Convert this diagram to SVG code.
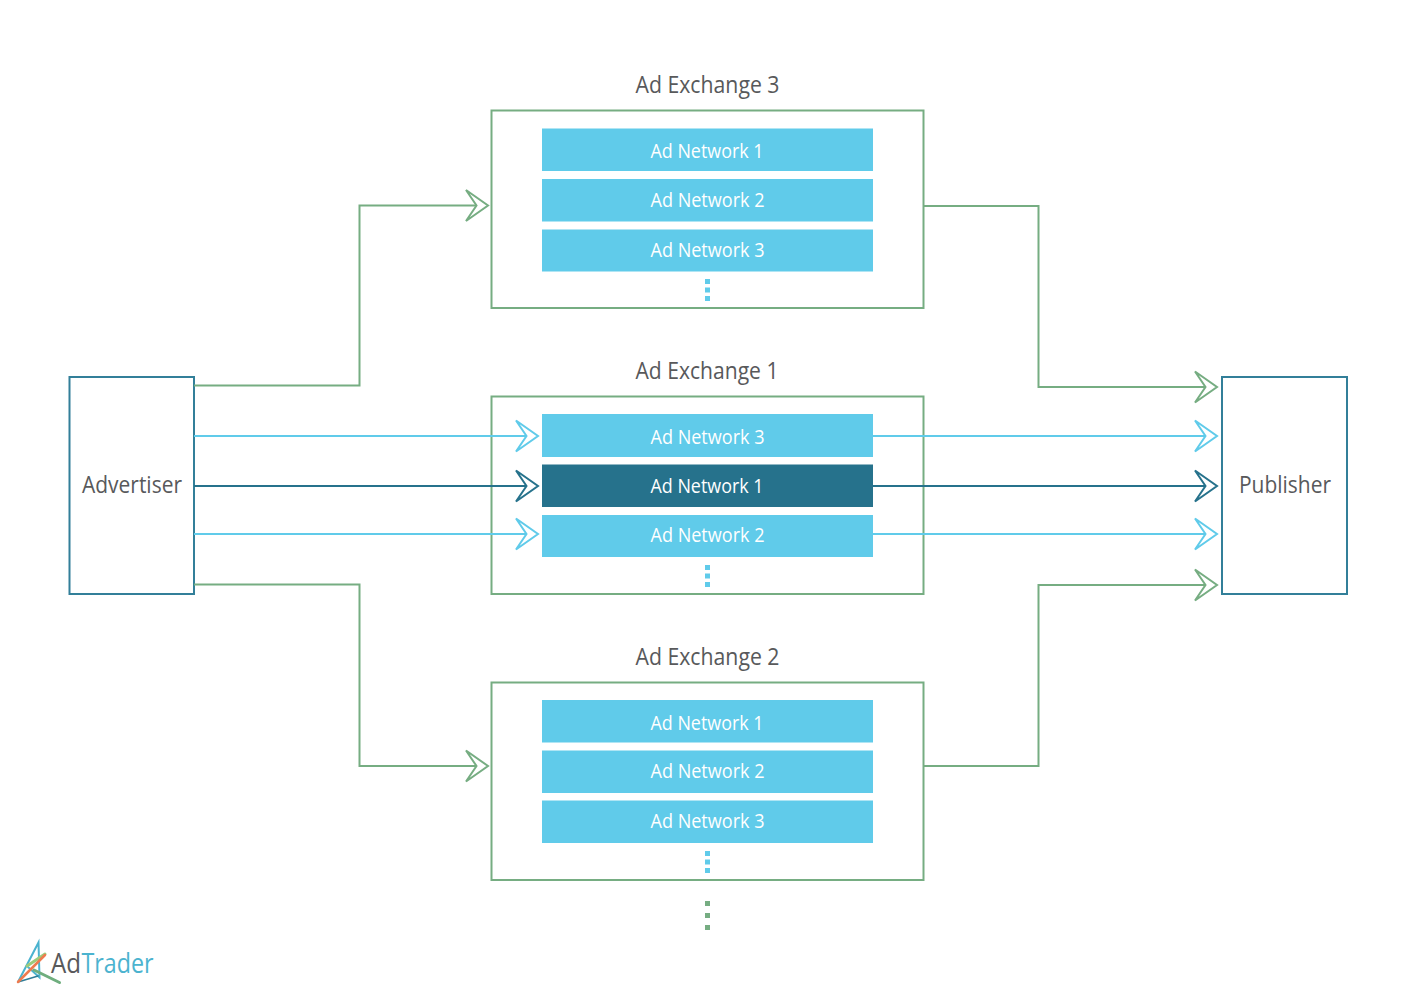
<svg xmlns="http://www.w3.org/2000/svg" width="1415" height="1000" viewBox="0 0 1415 1000">
<style>
text{font-family:"Open Sans","Noto Sans","Liberation Sans",sans-serif;text-anchor:middle}
.t{font-size:23px;fill:#58595b}
.n{font-size:20px;fill:#fff}
.ex{fill:#fff;stroke:#76ad82;stroke-width:2}
.ep{fill:#fff;stroke:#327f99;stroke-width:2}
.net{fill:#60cbea}
.dark{fill:#26728c}
.c{fill:none;stroke-width:2}
.g{stroke:#76ad82;marker-end:url(#ag)}
.l{stroke:#60cbea;marker-end:url(#al)}
.d{stroke:#26728c;marker-end:url(#ad)}
.dot{fill:#60cbea}
.gd{fill:#76ad82}
</style>
<defs>
<marker id="ag" markerUnits="userSpaceOnUse" markerWidth="30" markerHeight="36" refX="11" refY="18" orient="auto" viewBox="0 0 30 36"><path d="M1,2.500L23,18L1,33.500L11.500,18Z" fill="#fff" stroke="#76ad82" stroke-width="2"/></marker>
<marker id="al" markerUnits="userSpaceOnUse" markerWidth="30" markerHeight="36" refX="11" refY="18" orient="auto" viewBox="0 0 30 36"><path d="M1,2.500L23,18L1,33.500L11.500,18Z" fill="#fff" stroke="#60cbea" stroke-width="2"/></marker>
<marker id="ad" markerUnits="userSpaceOnUse" markerWidth="30" markerHeight="36" refX="11" refY="18" orient="auto" viewBox="0 0 30 36"><path d="M1,2.500L23,18L1,33.500L11.500,18Z" fill="#fff" stroke="#26728c" stroke-width="2"/></marker>
</defs>
<rect width="1415" height="1000" fill="#fff"/>

<g id="exchange3">
<rect class="ex" x="491.5" y="110.5" width="432" height="197.5"/>
<text class="t" x="707.500" y="93" textLength="144" lengthAdjust="spacingAndGlyphs">Ad Exchange 3</text>
<rect class="net" x="542" y="128.500" width="331" height="42.500"/><text class="n" x="707" y="158" textLength="113" lengthAdjust="spacingAndGlyphs">Ad Network 1</text>
<rect class="net" x="542" y="179" width="331" height="42.500"/><text class="n" x="707.500" y="207" textLength="114" lengthAdjust="spacingAndGlyphs">Ad Network 2</text>
<rect class="net" x="542" y="229.500" width="331" height="42"/><text class="n" x="707.500" y="257" textLength="114" lengthAdjust="spacingAndGlyphs">Ad Network 3</text>
<rect class="dot" x="705" y="279" width="5" height="5"/><rect class="dot" x="705" y="287.500" width="5" height="5"/><rect class="dot" x="705" y="296" width="5" height="5"/>
</g>
<g id="exchange1">
<rect class="ex" x="491.5" y="396.5" width="432" height="197.5"/>
<text class="t" x="707" y="379" textLength="143" lengthAdjust="spacingAndGlyphs">Ad Exchange 1</text>
<rect class="net" x="542" y="414" width="331" height="43"/><text class="n" x="707.500" y="444" textLength="114" lengthAdjust="spacingAndGlyphs">Ad Network 3</text>
<rect class="dark" x="542" y="464.500" width="331" height="42.500"/><text class="n" x="707" y="493" textLength="113" lengthAdjust="spacingAndGlyphs">Ad Network 1</text>
<rect class="net" x="542" y="515" width="331" height="42"/><text class="n" x="707.500" y="542" textLength="114" lengthAdjust="spacingAndGlyphs">Ad Network 2</text>
<rect class="dot" x="705" y="565" width="5" height="5"/><rect class="dot" x="705" y="573.500" width="5" height="5"/><rect class="dot" x="705" y="582" width="5" height="5"/>
</g>
<g id="exchange2">
<rect class="ex" x="491.5" y="682.5" width="432" height="197.5"/>
<text class="t" x="707.500" y="665" textLength="144" lengthAdjust="spacingAndGlyphs">Ad Exchange 2</text>
<rect class="net" x="542" y="700" width="331" height="42.500"/><text class="n" x="707" y="730" textLength="113" lengthAdjust="spacingAndGlyphs">Ad Network 1</text>
<rect class="net" x="542" y="750.500" width="331" height="42.500"/><text class="n" x="707.500" y="778" textLength="114" lengthAdjust="spacingAndGlyphs">Ad Network 2</text>
<rect class="net" x="542" y="800.500" width="331" height="42.500"/><text class="n" x="707.500" y="828" textLength="114" lengthAdjust="spacingAndGlyphs">Ad Network 3</text>
<rect class="dot" x="705" y="851" width="5" height="5"/><rect class="dot" x="705" y="859.500" width="5" height="5"/><rect class="dot" x="705" y="868" width="5" height="5"/>
</g>
<g id="more"><rect class="gd" x="705" y="901" width="5" height="5"/><rect class="gd" x="705" y="913" width="5" height="5"/><rect class="gd" x="705" y="925" width="5" height="5"/></g>
<g id="advertiser"><rect class="ep" x="69.500" y="377" width="124.500" height="217"/><text class="t" x="132" y="493" textLength="100" lengthAdjust="spacingAndGlyphs">Advertiser</text></g>
<g id="publisher"><rect class="ep" x="1222" y="377" width="125" height="217"/><text class="t" x="1285" y="493" textLength="92" lengthAdjust="spacingAndGlyphs">Publisher</text></g>

<g id="connectors">
<path class="c g" d="M194,385.500H359.500V205.500H476"/>
<path class="c g" d="M923,206H1038.500V387H1205"/>
<path class="c l" d="M194,436H526"/>
<path class="c d" d="M194,486H526"/>
<path class="c l" d="M194,534H526"/>
<path class="c l" d="M873,436H1205"/>
<path class="c d" d="M873,486H1205"/>
<path class="c l" d="M873,534H1205"/>
<path class="c g" d="M194,584.500H359.500V766H476"/>
<path class="c g" d="M923,766H1038.500V585H1205"/>
</g>

<g id="logo" fill="none" stroke-linecap="round">
<path d="M18,982L38.500,942.500L39.500,977.500L28,967" stroke="#4bb3cf" stroke-width="2"/>
<path d="M18,982L38,976" stroke="#2f7d98" stroke-width="1.500"/>
<path d="M27,966L45,954" stroke="#9ccb7c" stroke-width="3"/>
<path d="M34,970L59.500,982.500" stroke="#6fae7e" stroke-width="3"/>
<path d="M18,982L45,955" stroke="#ee7b4f" stroke-width="2.500"/>
<text x="66" y="973" style="font-size:27px;fill:#58595b;stroke:none" textLength="30" lengthAdjust="spacingAndGlyphs">Ad</text>
<text x="117.500" y="973" style="font-size:27px;fill:#4bb3cf;stroke:none" textLength="72" lengthAdjust="spacingAndGlyphs">Trader</text>
</g>
</svg>
